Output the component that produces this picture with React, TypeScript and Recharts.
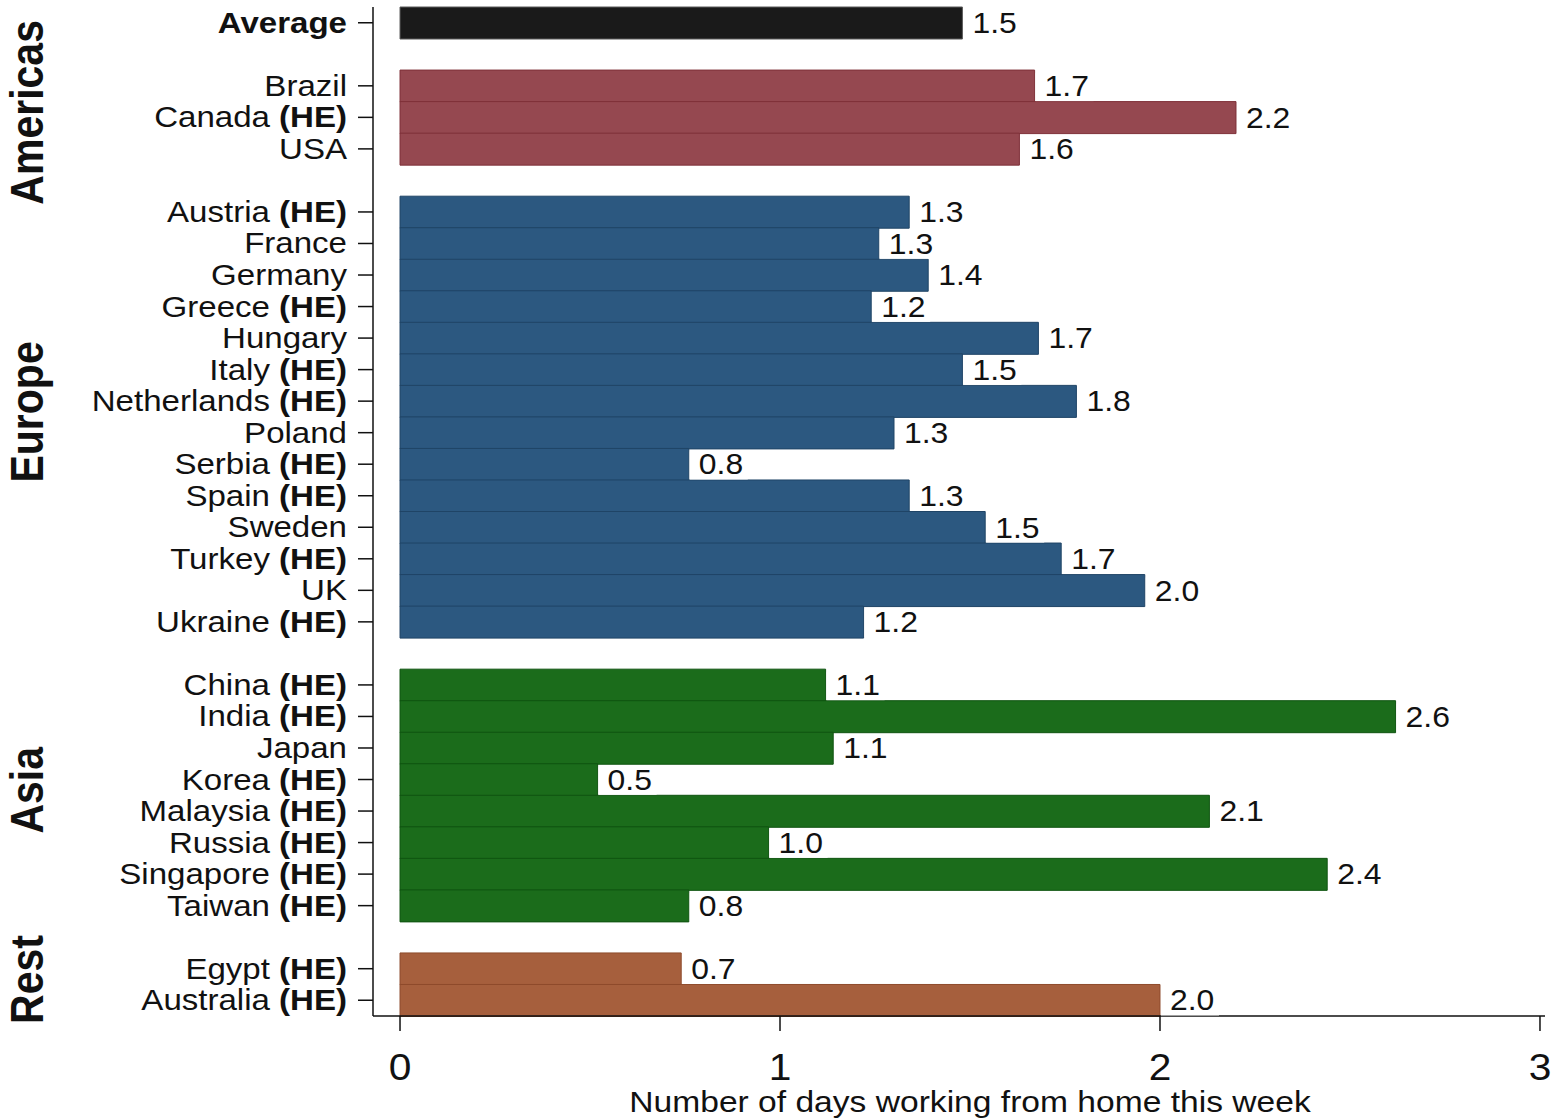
import React from 'react';
import { BarChart, Bar, XAxis, YAxis, Cell, LabelList } from 'recharts';

// rows top to bottom, '' = spacer row between regions
const rowNames = [
  'Average', '',
  'Brazil', 'Canada', 'USA', '',
  'Austria', 'France', 'Germany', 'Greece', 'Hungary', 'Italy', 'Netherlands',
  'Poland', 'Serbia', 'Spain', 'Sweden', 'Turkey', 'UK', 'Ukraine', '',
  'China', 'India', 'Japan', 'Korea', 'Malaysia', 'Russia', 'Singapore', 'Taiwan', '',
  'Egypt', 'Australia',
];

const rowHE = [
  false, false,
  false, true, false, false,
  true, false, false, true, false, true, true,
  false, true, true, false, true, false, true, false,
  true, true, false, true, true, true, true, true, false,
  true, true,
];

const rowValues = [
  1.48, null,
  1.67, 2.2, 1.63, null,
  1.34, 1.26, 1.39, 1.24, 1.68, 1.48, 1.78,
  1.3, 0.76, 1.34, 1.54, 1.74, 1.96, 1.22, null,
  1.12, 2.62, 1.14, 0.52, 2.13, 0.97, 2.44, 0.76, null,
  0.74, 2.0,
];

const rowRegion = [
  'avg', '',
  'am', 'am', 'am', '',
  'eu', 'eu', 'eu', 'eu', 'eu', 'eu', 'eu',
  'eu', 'eu', 'eu', 'eu', 'eu', 'eu', 'eu', '',
  'as', 'as', 'as', 'as', 'as', 'as', 'as', 'as', '',
  're', 're',
];

const regionLabels = { am: 'Americas', eu: 'Europe', as: 'Asia', re: 'Rest' };
const regionFill = { avg: '#1a1a1a', am: '#954850', eu: '#2c5880', as: '#1b6c1b', re: '#a65f3d' };
const regionStroke = { avg: '#5a5a5a', am: '#7e3038', eu: '#1f4466', as: '#0f5410', re: '#8e4b2c' };

const xTicks = [0, 1, 2, 3];
const X_MIN = -0.0711;
const X_MAX = 3.0132;

const data = rowNames.map((name, i) => ({
  key: 'r' + i,
  name,
  he: rowHE[i],
  value: rowValues[i],
  region: rowRegion[i],
}));

const W = 1552;
const H = 1118;
const M_TOP = 7;
const X_AXIS_H = 102;
const BAND = (H - M_TOP - X_AXIS_H) / data.length;
const FONT = '"Liberation Sans", Arial, sans-serif';
const SX = 1.1;

const YTick = (props) => {
  const { x, y, index } = props;
  const row = data[index];
  if (!row || !row.name) return null;
  const prev = data[index - 1];
  let group = null;
  if (row.region !== 'avg' && (!prev || prev.region !== row.region)) {
    const n = data.filter(d => d.region === row.region).length;
    const cy = y + ((n - 1) / 2) * BAND - 5;
    group = (
      <g transform={`translate(43,${cy}) scale(1.12,1) rotate(-90)`}>
        <text x={0} y={0} textAnchor="middle" fontSize={41} fontWeight="bold" fontFamily={FONT} fill="#111">
          {regionLabels[row.region]}
        </text>
      </g>
    );
  }
  return (
    <g>
      {group}
      <line x1={x - 15} x2={x} y1={y} y2={y} stroke="#111" strokeWidth={1.5} />
      <g transform={`translate(${x - 26},${y}) scale(1.14,1)`}>
        <text x={0} y={0} dy={10} textAnchor="end" fontSize={29} fontFamily={FONT} fill="#111"
          fontWeight={row.region === 'avg' ? 'bold' : 'normal'}>
          {row.he ? row.name + ' ' : row.name}
          {row.he && <tspan fontWeight="bold">(HE)</tspan>}
        </text>
      </g>
    </g>
  );
};

const XTick = (props) => {
  const { x, y, payload } = props;
  return (
    <g>
      <line x1={x} x2={x} y1={y} y2={y + 15} stroke="#111" strokeWidth={1.5} />
      <g transform={`translate(${x},${y + 64}) scale(${SX},1)`}>
        <text x={0} y={0} textAnchor="middle" fontSize={37} fontFamily={FONT} fill="#111">
          {payload.value}
        </text>
      </g>
    </g>
  );
};

const AxisTitle = (props) => {
  const vb = props.viewBox || { x: 0, y: 0, width: 0, height: 0 };
  const cx = vb.x + ((1.5 - X_MIN) / (X_MAX - X_MIN)) * vb.width;
  return (
    <g transform={`translate(${cx},${vb.y + 96}) scale(1.12,1)`}>
      <text x={0} y={0} textAnchor="middle" fontSize={30} fontFamily={FONT} fill="#111">
        Number of days working from home this week
      </text>
    </g>
  );
};

const ValueLabel = (props) => {
  const { x, y, width, height, value } = props;
  if (value == null) return null;
  const endX = x + width;
  const cy = y + height / 2;
  return (
    <g>
      <rect x={endX + 1} y={cy - 13} width={58} height={28} fill="#ffffff" />
      <g transform={`translate(${endX + 10},${cy}) scale(${SX},1)`}>
        <text x={0} y={0} dy={10} fontSize={29} fontFamily={FONT} fill="#111">
          {Number(value).toFixed(1)}
        </text>
      </g>
    </g>
  );
};

export default function App() {
  return (
    <div style={{ position: 'absolute', left: 0, top: 0, width: W, height: H, background: '#fff' }}>
      <BarChart
        width={W}
        height={H}
        data={data}
        layout="vertical"
        margin={{ top: M_TOP, right: 7, left: 0, bottom: 0 }}
        barCategoryGap={0}
        barGap={0}
      >
        <XAxis
          type="number"
          domain={[X_MIN, X_MAX]}
          ticks={xTicks}
          allowDataOverflow
          height={X_AXIS_H}
          tickLine={false}
          tickSize={0}
          tickMargin={0}
          axisLine={{ stroke: '#111', strokeWidth: 1.5 }}
          tick={<XTick />}
          label={<AxisTitle />}
        />
        <YAxis
          type="category"
          dataKey="key"
          width={373}
          interval={0}
          tickLine={false}
          tickSize={0}
          tickMargin={0}
          axisLine={{ stroke: '#111', strokeWidth: 1.5 }}
          tick={<YTick />}
        />
        <Bar dataKey="value" isAnimationActive={false} strokeWidth={1}>
          {data.map((d) => (
            <Cell key={d.key} fill={regionFill[d.region] || '#fff'} stroke={regionStroke[d.region] || 'none'} />
          ))}
          <LabelList dataKey="value" content={<ValueLabel />} />
        </Bar>
      </BarChart>
    </div>
  );
}
